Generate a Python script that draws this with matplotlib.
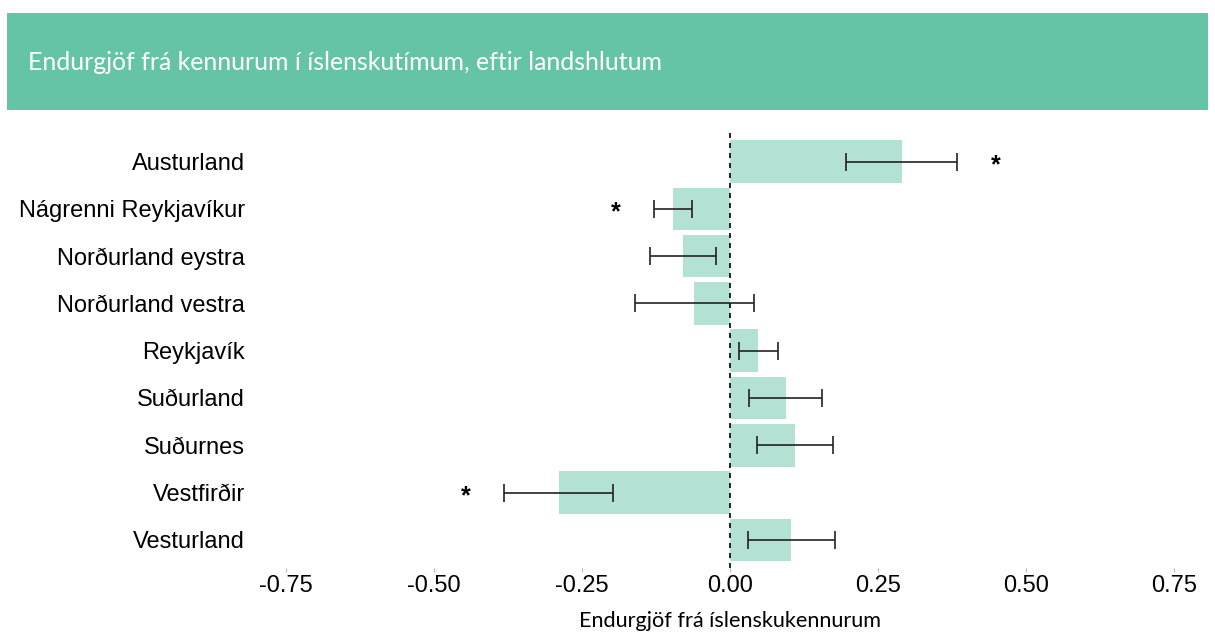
import numpy as np
import matplotlib.pyplot as plt
from matplotlib.patches import Rectangle

# regions, estimates and half-widths of the confidence intervals
regions = ["Austurland", "Nágrenni Reykjavíkur", "Norðurland eystra",
           "Norðurland vestra", "Reykjavík", "Suðurland", "Suðurnes",
           "Vestfirðir", "Vesturland"]
estimate = [0.290, -0.096, -0.079, -0.060, 0.048, 0.094, 0.110, -0.289, 0.104]
ci_half = [0.094, 0.032, 0.055, 0.100, 0.033, 0.062, 0.064, 0.092, 0.074]
significant = [True, True, False, False, False, False, False, True, False]

x_ticks = [-0.75, -0.50, -0.25, 0.00, 0.25, 0.50, 0.75]

title = "Endurgjöf frá kennurum í íslenskutímum, eftir landshlutum"
x_title = "Endurgjöf frá íslenskukennurum"

banner_green = "#66C4A6"
bar_green = "#B3E1D3"

fig = plt.figure(figsize=(12.15, 6.37), dpi=100)

# title banner
fig.patches.append(Rectangle((0.0058, 0.827), 0.9885, 0.152, transform=fig.transFigure,
                             facecolor=banner_green, edgecolor="none", zorder=0))
fig.text(0.023, 0.902, title, color="white", fontsize=17.9, family="Lato",
         va="center", ha="left")

ax = fig.add_axes([0.2107, 0.108, 0.780, 0.683])

y = np.arange(len(regions))
est = np.array(estimate)
half = np.array(ci_half)

ax.barh(y, est, height=0.9, color=bar_green, zorder=1)
ax.errorbar(est, y, xerr=half, fmt="none", ecolor="#222222", elinewidth=1.2,
            capsize=6.8, capthick=1.2, zorder=3)
ax.axvline(0, color="black", linestyle=(0, (3, 3)), linewidth=1.2, zorder=2)

# stars beyond the interval for significant differences
for yi, e, h, s in zip(y, est, half, significant):
    if s:
        xs = e + h + 0.065 if e > 0 else e - h - 0.065
        ax.text(xs, yi + 0.07, "*", fontsize=18, ha="center", va="center",
                family="Liberation Sans", fontweight="bold")

ax.set_xlim(-0.80, 0.80)
ax.set_ylim(len(regions) - 0.4, -0.6)
ax.set_yticks(y)
ax.set_yticklabels(regions, family="Liberation Sans", fontsize=17)
ax.set_xticks(x_ticks)
ax.set_xticklabels([f"{t:.2f}" for t in x_ticks], family="Liberation Sans", fontsize=17)
ax.tick_params(axis="y", length=0, pad=8)
ax.tick_params(axis="x", length=3, color="#BBBBBB", pad=2)
ax.set_xlabel(x_title, family="Lato", fontsize=15.6, labelpad=10)

for sp in ax.spines.values():
    sp.set_visible(False)

fig.savefig("out.png", dpi=100)
